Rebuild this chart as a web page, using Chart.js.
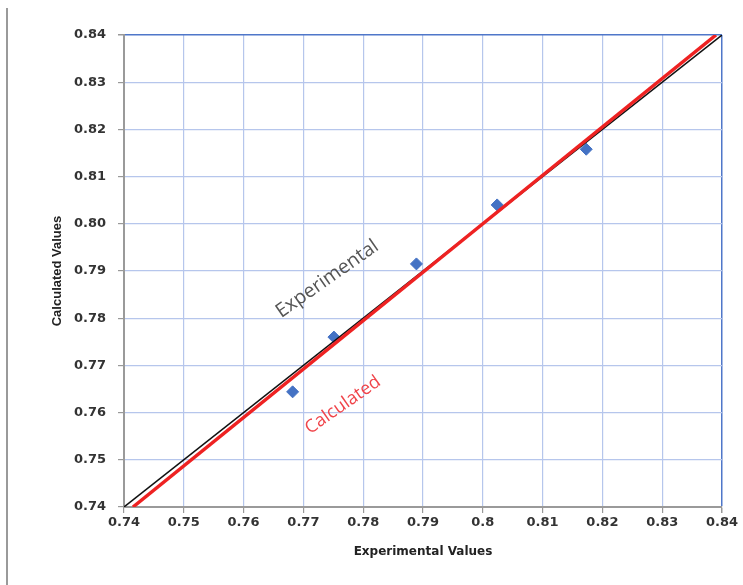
<!DOCTYPE html>
<html>
<head>
<meta charset="utf-8">
<script src="https://cdn.jsdelivr.net/npm/chart.js@4"></script>
<style>
  body { margin: 0; background: #fff; }
  #wrap { position: relative; width: 743px; height: 585px; }
  #edge { position: absolute; left: 6px; top: 8px; width: 2px; height: 577px; background: #9a9a9a; }
</style>
</head>
<body>
<div id="wrap">
  <div id="edge"></div>
  <canvas id="chart" width="743" height="585"></canvas>
</div>
<script>
// measured points
const expX = [0.7682, 0.7751, 0.7889, 0.8024, 0.8173];
const calcY = [0.7644, 0.7760, 0.7915, 0.8040, 0.8158];

// y = x reference line and fitted line end points
const refX = [0.74, 0.84];
const refY = [0.74, 0.84];
const fitX = [0.7415, 0.8390];
const fitY = [0.74, 0.84];

const xTicks = [0.74, 0.75, 0.76, 0.77, 0.78, 0.79, 0.80, 0.81, 0.82, 0.83, 0.84];
const yTicks = [0.74, 0.75, 0.76, 0.77, 0.78, 0.79, 0.80, 0.81, 0.82, 0.83, 0.84];

// rotated text labels, placed in data units
const labels = [
  { text: "Experimental", x: 0.7740, y: 0.7883, color: "#555555", size: 19.5 },
  { text: "Calculated", x: 0.7766, y: 0.7616, color: "#f0444a", size: 18 }
];

const toPts = (xs, ys) => xs.map((x, i) => ({ x, y: ys[i] }));

const gridBlue = "#b6c6ec";
const edgeBlue = "#4f77c9";
const isMax = v => Math.abs(v - 0.84) < 1e-6;

const labelPlugin = {
  id: "lineLabels",
  afterDatasetsDraw(chart) {
    const { ctx, scales } = chart;
    ctx.save();
    ctx.textAlign = "center";
    ctx.textBaseline = "middle";
    labels.forEach(l => {
      ctx.save();
      ctx.font = l.size + "px 'Open Sans', sans-serif";
      ctx.translate(scales.x.getPixelForValue(l.x), scales.y.getPixelForValue(l.y));
      ctx.rotate(-35 * Math.PI / 180);
      ctx.fillStyle = l.color;
      ctx.fillText(l.text, 0, 0);
      ctx.restore();
    });
    ctx.restore();
  }
};

const tickFont = { family: "'DejaVu Sans', sans-serif", size: 13, weight: "bold" };

new Chart(document.getElementById("chart"), {
  type: "scatter",
  data: {
    datasets: [
      {
        label: "Calculated",
        type: "line",
        data: toPts(fitX, fitY),
        borderColor: "#ee2222",
        borderWidth: 3.5,
        pointRadius: 0,
        fill: false
      },
      {
        label: "Experimental",
        type: "line",
        data: toPts(refX, refY),
        borderColor: "#111111",
        borderWidth: 1.5,
        pointRadius: 0,
        fill: false
      },
      {
        label: "Data",
        data: toPts(expX, calcY),
        pointStyle: "rectRot",
        pointRadius: 6,
        backgroundColor: "#4472c4",
        borderColor: "#4472c4"
      }
    ]
  },
  options: {
    responsive: false,
    animation: false,
    layout: { padding: { top: 35, right: 21, left: 0, bottom: 0 } },
    plugins: { legend: { display: false }, tooltip: { enabled: false } },
    scales: {
      x: {
        type: "linear",
        min: 0.74,
        max: 0.84,
        afterBuildTicks: s => { s.ticks = xTicks.map(v => ({ value: v })); },
        afterFit: s => { s.height = 78; },
        ticks: {
          color: "#333",
          font: tickFont,
          padding: 2,
          maxRotation: 0,
          callback: v => String(Number(v.toFixed(2)))
        },
        grid: {
          color: c => (c.tick && isMax(c.tick.value)) ? edgeBlue : gridBlue,
          lineWidth: c => (c.tick && isMax(c.tick.value)) ? 1.5 : 1.2,
          tickLength: 6,
          tickColor: "#999"
        },
        border: { color: "#9a9a9a", width: 2 },
        title: {
          display: true,
          text: "Experimental Values",
          color: "#222",
          font: { family: "'DejaVu Sans', sans-serif", size: 12, weight: "bold" },
          padding: { top: 0, bottom: 26 }
        }
      },
      y: {
        type: "linear",
        min: 0.74,
        max: 0.84,
        afterBuildTicks: s => { s.ticks = yTicks.map(v => ({ value: v })); },
        afterFit: s => { s.width = 124; },
        ticks: {
          color: "#333",
          font: tickFont,
          padding: 12,
          callback: v => v.toFixed(2)
        },
        grid: {
          color: c => (c.tick && isMax(c.tick.value)) ? edgeBlue : gridBlue,
          lineWidth: c => (c.tick && isMax(c.tick.value)) ? 1.5 : 1.2,
          tickLength: 6,
          tickColor: "#999"
        },
        border: { color: "#9a9a9a", width: 2 },
        title: {
          display: true,
          text: "Calculated Values",
          color: "#222",
          font: { family: "'Liberation Sans Narrow', 'Liberation Sans', sans-serif", size: 13, weight: "bold" },
          padding: { top: 50, bottom: 0 }
        }
      }
    }
  },
  plugins: [labelPlugin]
});
</script>
</body>
</html>
